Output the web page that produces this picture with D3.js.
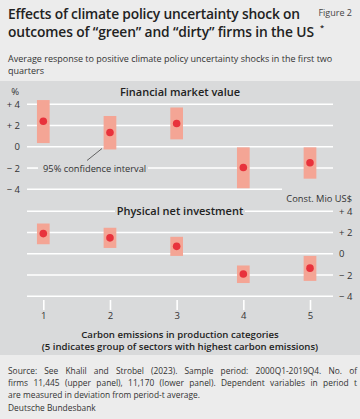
<!DOCTYPE html>
<html><head><meta charset="utf-8">
<script src="https://cdn.jsdelivr.net/npm/d3@7/dist/d3.min.js"></script>
<style>
html,body{margin:0;padding:0;background:#ececec;}
svg{display:block;font-family:"Open Sans","Noto Sans",sans-serif;}
</style></head><body>
<script>
const categories = [1, 2, 3, 4, 5];
const marketValue = [2.4, 1.35, 2.2, -1.95, -1.5];
const marketLow = [0.35, -0.25, 0.7, -3.9, -3.0];
const marketHigh = [4.4, 2.9, 3.7, -0.05, -0.05];
const investValue = [1.9, 1.5, 0.7, -1.9, -1.35];
const investLow = [0.9, 0.55, -0.2, -2.75, -2.55];
const investHigh = [2.85, 2.45, 1.6, -1.1, -0.2];
const yTicks = [4, 2, 0, -2, -4];
const yTickLabels = ["+ 4", "+ 2", "0", "\u2212 2", "\u2212 4"];

const W = 360, H = 419;
const svg = d3.select("body").append("svg").attr("width", W).attr("height", H);

// backgrounds
svg.append("rect").attr("x",0).attr("y",0).attr("width",W).attr("height",H).attr("fill","#ececec");
svg.append("rect").attr("x",0).attr("y",81).attr("width",W).attr("height",274).attr("fill","#d9dadb");

// header
function fitText(sel, target) {
  const s = sel.text();
  const w = sel.node().getComputedTextLength();
  sel.attr("letter-spacing", (target - w) / (s.length - 1));
}
const t1 = svg.append("text").attr("x",8).attr("y",19).attr("font-size",13.8).attr("font-weight",600).attr("fill","#222")
  .text("Effects of climate policy uncertainty shock on");
fitText(t1, 292);
const t2 = svg.append("text").attr("x",8).attr("y",36.5).attr("font-size",13.8).attr("font-weight",600).attr("fill","#222")
  .text("outcomes of \u201Cgreen\u201D and \u201Cdirty\u201D firms in the US");
fitText(t2, 306);
svg.append("text").attr("x",320).attr("y",29.5).attr("font-size",7.5).attr("font-weight",600).attr("fill","#222").text("*");
svg.append("text").attr("x",352).attr("y",15.5).attr("text-anchor","end").attr("font-size",9).attr("fill","#444").text("Figure 2");
svg.append("text").attr("x",8).attr("y",62).attr("font-size",9).attr("fill","#333").text("Average response to positive climate policy uncertainty shocks in the first two");
svg.append("text").attr("x",8).attr("y",74).attr("font-size",9).attr("fill","#333").text("quarters");

const x = d3.scaleLinear().domain([1,5]).range([43.3,310]);
const yTop = d3.scaleLinear().domain([-4,4]).range([189.3,104.3]);
const yBot = d3.scaleLinear().domain([-4,4]).range([296.3,211.3]);

const gridColor = "#ffffff";
const boxW = 12.7;

function panel(y, vals, lo, hi, segs) {
  const g = svg.append("g");
  yTicks.forEach((t,i) => {
    (segs[t] || [[27,333]]).forEach(s => {
      g.append("line").attr("x1",s[0]).attr("x2",s[1]).attr("y1",y(t)).attr("y2",y(t))
        .attr("stroke",gridColor).attr("stroke-width",1.6);
    });
  });
  g.selectAll("rect.ci").data(categories).enter().append("rect")
    .attr("x", d => x(d) - boxW/2).attr("width", boxW)
    .attr("y", (d,i) => y(hi[i])).attr("height", (d,i) => y(lo[i]) - y(hi[i]))
    .attr("fill","#f4a595");
  g.selectAll("circle").data(categories).enter().append("circle")
    .attr("cx", d => x(d)).attr("cy", (d,i) => y(vals[i])).attr("r",3.8)
    .attr("fill","#e8323c");
  return g;
}

panel(yTop, marketValue, marketLow, marketHigh, {"-2": [[27,38],[148,333]], "-4": [[27,282]]});
panel(yBot, investValue, investLow, investHigh, {"4": [[27,115],[245,333]]});

// left axis labels (upper)
const axL = d3.axisLeft(yTop).tickValues(yTicks).tickSize(0).tickFormat((d,i)=>yTickLabels[i]);
const gL = svg.append("g").attr("transform","translate(20,0)").call(axL);
gL.select(".domain").remove();
gL.selectAll("text").attr("font-size",9.5).attr("fill","#333").attr("x",0).attr("font-family","Open Sans, sans-serif");
svg.append("text").attr("x",19).attr("y",95).attr("text-anchor","end").attr("font-size",9.5).attr("fill","#333").text("%");

// right axis labels (lower)
const axR = d3.axisRight(yBot).tickValues(yTicks).tickSize(0).tickFormat((d,i)=>yTickLabels[i]);
const gR = svg.append("g").attr("transform","translate(339,0)").call(axR);
gR.select(".domain").remove();
gR.selectAll("text").attr("font-size",9.5).attr("fill","#333").attr("x",0).attr("font-family","Open Sans, sans-serif");
svg.append("text").attr("x",352).attr("y",202).attr("text-anchor","end").attr("font-size",9.3).attr("fill","#333").text("Const. Mio US$");

// panel titles
svg.append("text").attr("x",180).attr("y",96).attr("text-anchor","middle").attr("font-size",11).attr("font-weight",600).attr("fill","#222").text("Financial market value");
svg.append("text").attr("x",180).attr("y",215).attr("text-anchor","middle").attr("font-size",11).attr("font-weight",600).attr("fill","#222").text("Physical net investment");

// annotation
svg.append("text").attr("x",43).attr("y",172.2).attr("font-size",9.3).attr("fill","#333").text("95% confidence interval");
svg.append("line").attr("x1",87).attr("y1",160.5).attr("x2",102).attr("y2",148.5).attr("stroke","#444").attr("stroke-width",0.8);

// x axis
const axB = d3.axisBottom(x).tickValues(categories).tickSize(10).tickFormat(d3.format("d"));
const gB = svg.append("g").attr("transform","translate(0,300)").call(axB);
gB.select(".domain").remove();
gB.selectAll(".tick line").attr("stroke","#ffffff").attr("stroke-width",1.6);
gB.selectAll("text").attr("font-size",9.5).attr("fill","#333").attr("dy","0.71em").attr("y",12.5).attr("font-family","Open Sans, sans-serif");

svg.append("text").attr("x",180).attr("y",338).attr("text-anchor","middle").attr("font-size",9.6).attr("font-weight",600).attr("fill","#222").text("Carbon emissions in production categories");
svg.append("text").attr("x",180).attr("y",350).attr("text-anchor","middle").attr("font-size",9.6).attr("font-weight",600).attr("fill","#222").text("(5 indicates group of sectors with highest carbon emissions)");

// footer (lines 1-2 justified)
const foot = ["Source: See Khalil and Strobel (2023). Sample period: 2000Q1-2019Q4. No. of",
  "firms 11,445 (upper panel), 11,170 (lower panel). Dependent variables in period t",
  "are measured in deviation from period-t average."];
foot.forEach((s,i)=> {
  const t = svg.append("text").attr("x",8).attr("y",374+i*11.8).attr("font-size",8.4).attr("fill","#333").text(s);
  if (i < 2) {
    const w = t.node().getComputedTextLength();
    const gaps = s.split(" ").length - 1;
    const extra = (349 - w) / gaps;
    t.attr("word-spacing", extra);
  }
});
svg.append("text").attr("x",8).attr("y",410.5).attr("font-size",8.4).attr("fill","#333").text("Deutsche Bundesbank");
</script>
</body></html>
